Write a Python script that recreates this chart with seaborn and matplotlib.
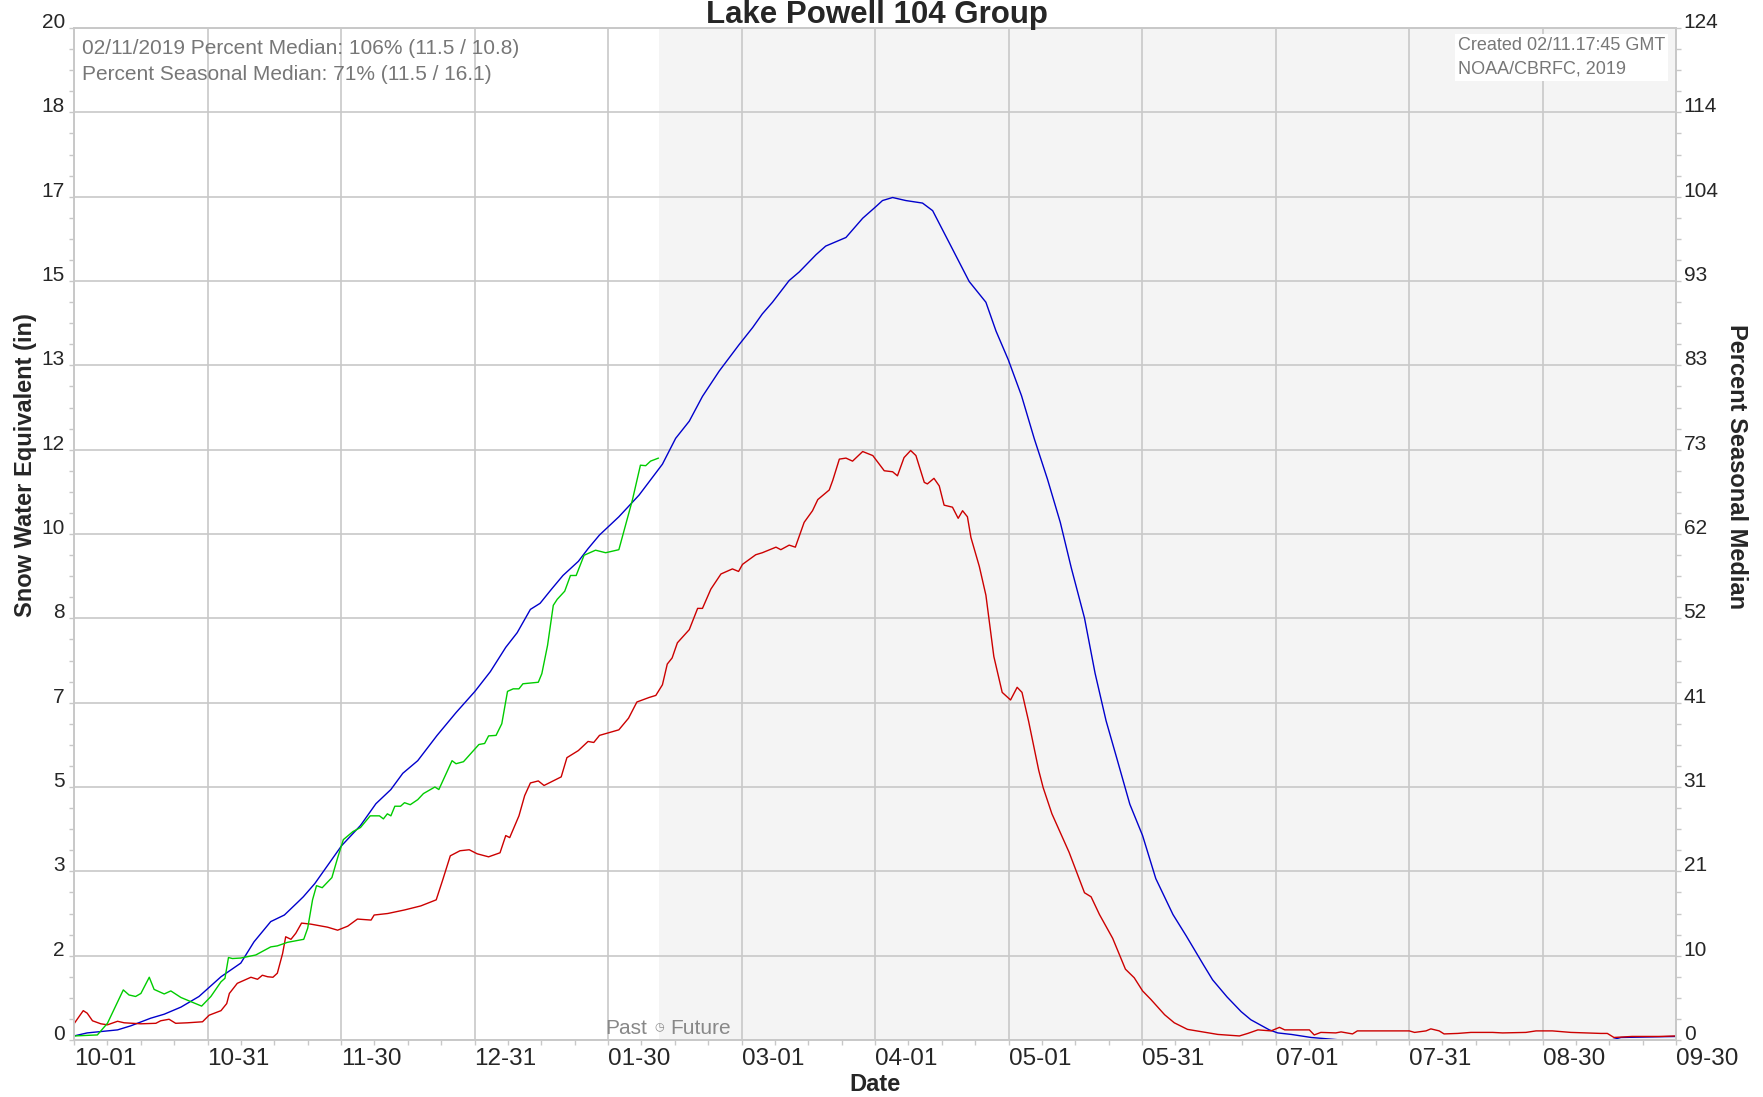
import numpy as np
import matplotlib
matplotlib.use('Agg')
import matplotlib.pyplot as plt
from matplotlib.ticker import AutoMinorLocator, FixedLocator
import seaborn as sns

# days since 10-01, snow water equivalent (in)
median_day = [0, 3.0, 9.9, 12.9, 17.4, 20.5, 24.3, 28.4, 33.4, 37.9, 40.9, 44.7, 47.8, 50.8,
              52.1, 54.7, 58.2, 60.8, 65.1, 68.6, 72.0, 74.7, 78.1, 82.5, 86.8, 91.1, 94.6, 98.1,
              100.7, 103.7, 105.9, 108.5, 111.1, 114.6, 116.8, 119.4, 123.8, 128.4, 133.7, 136.7,
              139.8, 142.8, 146.6, 151.1, 154.2, 156.4, 158.7, 162.5, 164.8, 168.6, 170.8, 175.4,
              179.2, 182.2, 183.7, 186.0, 189.0, 192.8, 195.1, 198.9, 203.4, 207.2, 209.5, 212.3,
              215.3, 218.2, 221.2, 224.1, 226.6, 229.6, 232.0, 234.5, 237.0, 239.9, 242.8, 245.8,
              249.7, 252.7, 256.6, 258.7, 262.0, 265.2, 267.4, 271.6, 273.5, 276.6, 281.1, 287.9,
              349.3, 351.5, 364]
median_swe = [0.08, 0.14, 0.20, 0.28, 0.43, 0.51, 0.65, 0.86, 1.25, 1.52, 1.94, 2.34, 2.47, 2.72,
              2.83, 3.09, 3.52, 3.84, 4.24, 4.67, 4.95, 5.27, 5.52, 6.02, 6.47, 6.89, 7.28, 7.76,
              8.05, 8.51, 8.63, 8.91, 9.18, 9.46, 9.71, 9.98, 10.34, 10.77, 11.38, 11.89,
              12.23, 12.72, 13.22, 13.74, 14.08, 14.35, 14.58, 15.01, 15.18, 15.52, 15.69, 15.86,
              16.24, 16.47, 16.59, 16.65, 16.59, 16.54, 16.39, 15.75, 14.99, 14.58, 14.01, 13.44,
              12.73, 11.88, 11.08, 10.23, 9.33, 8.34, 7.25, 6.31, 5.55, 4.66, 4.04, 3.19,
              2.48, 2.06, 1.49, 1.19, 0.85, 0.56, 0.40, 0.20, 0.14, 0.11, 0.05, 0.0,
              0.0, 0.05, 0.07]

other_day = [0, 2.1, 3.0, 4.2, 6.1, 7.6, 9.9, 11.4, 15.2, 18.6, 19.7, 21.6, 23.1, 25.8, 29.2,
             30.7, 33.4, 34.7, 35.3, 37.1, 40.2, 41.7, 42.8, 44.0, 45.2, 46.2, 47.4, 48.1, 49.3,
             50.4, 51.7, 53.8, 57.6, 59.9, 62.2, 64.4, 67.5, 68.2, 71.3, 75.1, 78.8, 82.3,
             83.8, 85.5, 87.7, 89.8, 91.6, 94.2, 96.8, 98.1, 99.0, 101.1, 102.4, 103.7, 105.5, 106.8,
             110.7, 112.0, 114.6, 116.8, 118.1, 119.4, 123.8, 126.0, 127.9, 130.7, 132.2, 133.7,
             134.8, 135.9, 137.1, 139.8, 141.7, 142.8, 144.7, 147.0, 149.6, 151.0, 151.9, 154.9,
             156.4, 159.5, 160.6, 162.5, 163.9, 165.9, 167.8, 169.0, 171.6, 172.4, 173.9, 175.4,
             176.9, 179.2, 181.5, 184.1, 186.0, 187.1, 188.6, 190.1, 191.3, 193.2, 193.9, 195.4,
             196.6, 197.7, 199.6, 200.9, 201.9, 203.0, 203.8, 205.7, 207.2, 209.0, 210.9, 212.8,
             214.3, 215.4, 216.9, 219.2, 220.2, 222.2, 226.1, 229.6, 231.1, 233.0, 236.0, 238.9,
             240.9, 242.8, 244.7, 247.8, 250.0, 253.0, 259.9, 264.8, 266.7, 269.0, 272.0, 273.9,
             275.1, 280.7, 281.8, 283.3, 286.7, 287.9, 290.5, 291.6, 303.4, 304.6, 307.2, 308.3,
             310.2, 311.3, 314.4, 317.4, 322.3, 324.6, 329.9, 332.2, 335.9, 340.1, 346.9, 348.4,
             349.9, 354.0, 360.1, 364]
other_swe = [0.32, 0.58, 0.53, 0.38, 0.32, 0.30, 0.37, 0.34, 0.32, 0.33, 0.38, 0.41, 0.33, 0.34, 0.36,
             0.49, 0.58, 0.72, 0.92, 1.12, 1.24, 1.20, 1.28, 1.25, 1.24, 1.32, 1.71, 2.04, 1.99,
             2.11, 2.31, 2.29, 2.23, 2.17, 2.25, 2.39, 2.37, 2.47, 2.50, 2.57, 2.65, 2.77,
             3.17, 3.64, 3.74, 3.76, 3.68, 3.62, 3.70, 4.04, 4.00, 4.43, 4.83, 5.08, 5.12, 5.03,
             5.20, 5.58, 5.72, 5.90, 5.88, 6.02, 6.13, 6.36, 6.68, 6.77, 6.81, 7.02,
             7.43, 7.55, 7.85, 8.11, 8.53, 8.53, 8.91, 9.21, 9.31, 9.26, 9.40, 9.59,
             9.63, 9.74, 9.69, 9.78, 9.74, 10.23, 10.46, 10.68, 10.87, 11.06, 11.48, 11.50,
             11.44, 11.63, 11.55, 11.25, 11.23, 11.15, 11.51, 11.65, 11.55, 11.02, 10.99, 11.10,
             10.95, 10.57, 10.53, 10.31, 10.46, 10.34, 9.93, 9.36, 8.79, 7.58, 6.87, 6.72,
             6.97, 6.87, 6.30, 5.33, 4.99, 4.47, 3.71, 2.91, 2.83, 2.48, 2.01, 1.40,
             1.23, 0.97, 0.80, 0.50, 0.34, 0.21, 0.11, 0.08, 0.13, 0.20, 0.18, 0.25,
             0.20, 0.20, 0.10, 0.15, 0.14, 0.16, 0.12, 0.18, 0.18, 0.15, 0.18, 0.22,
             0.18, 0.12, 0.13, 0.15, 0.15, 0.14, 0.15, 0.18, 0.18, 0.15, 0.13, 0.13,
             0.05, 0.07, 0.07, 0.08]

current_day = [0, 5.3, 7.6, 11.2, 12.5, 14.0, 15.2, 17.1, 18.2, 20.5, 22.0, 24.3, 26.5, 29.0,
               31.1, 33.4, 34.3, 35.1, 36.0, 37.9, 41.3, 44.7, 46.2, 48.5, 52.2, 53.1, 54.2, 55.1,
               56.4, 58.6, 59.9, 61.2, 63.4, 65.1, 67.3, 69.4, 70.3, 71.2, 72.0, 72.9, 74.2, 75.1,
               76.4, 78.1, 79.4, 82.0, 82.9, 85.9, 86.8, 88.5, 92.0, 93.3, 94.2, 95.9, 97.2, 98.5,
               99.8, 101.1, 102.0, 105.5, 106.3, 107.6, 108.9, 109.8, 111.5, 112.8, 114.1, 115.9,
               118.5, 120.8, 123.8, 126.9, 128.7, 129.9, 131.0, 132.8]
current_swe = [0.08, 0.10, 0.33, 0.99, 0.89, 0.86, 0.92, 1.24, 1.00, 0.91, 0.97, 0.84, 0.76, 0.67,
               0.86, 1.15, 1.22, 1.63, 1.61, 1.62, 1.68, 1.84, 1.86, 1.93, 1.99, 2.21, 2.77, 3.05,
               3.01, 3.21, 3.60, 3.96, 4.12, 4.20, 4.43, 4.43, 4.37, 4.47, 4.43, 4.62, 4.62, 4.69,
               4.65, 4.75, 4.87, 5.00, 4.95, 5.52, 5.46, 5.50, 5.84, 5.86, 6.01, 6.02, 6.25, 6.89,
               6.94, 6.94, 7.04, 7.07, 7.24, 7.80, 8.59, 8.71, 8.87, 9.18, 9.18, 9.58,
               9.68, 9.63, 9.69, 10.68, 11.36, 11.35, 11.44, 11.50]

date_labels = ['10-01', '10-31', '11-30', '12-31', '01-30', '03-01', '04-01', '05-01',
               '05-31', '07-01', '07-31', '08-30', '09-30']
left_labels = ['0', '2', '3', '5', '7', '8', '10', '12', '13', '15', '17', '18', '20']
right_labels = ['0', '10', '21', '31', '41', '52', '62', '73', '83', '93', '104', '114', '124']
today = 133

sns.set_style('white')
plt.rcParams['font.family'] = ['Liberation Sans', 'DejaVu Sans']
narrow = ['Liberation Sans Narrow', 'Liberation Sans']
grey = '#c8c8c8'

fig = plt.figure(figsize=(17.63, 10.97), dpi=100)
ax = fig.add_axes([74 / 1763, 1 - 1040 / 1097, 1602 / 1763, 1012 / 1097])

ax.axvspan(today, 364, color='#f4f4f4', zorder=0, lw=0)

sns.lineplot(x=median_day, y=median_swe, ax=ax, color='#0000cc', lw=1.0, sort=False, estimator=None)
sns.lineplot(x=other_day, y=other_swe, ax=ax, color='#cc0000', lw=1.0, sort=False, estimator=None)
sns.lineplot(x=current_day, y=current_swe, ax=ax, color='#00cc00', lw=1.0, sort=False, estimator=None)

ax.set_xlim(0, 364)
ax.set_ylim(0, 20)
ax.xaxis.set_major_locator(FixedLocator(np.linspace(0, 364, 13)))
ax.yaxis.set_major_locator(FixedLocator(np.linspace(0, 20, 13)))
ax.set_xticklabels(date_labels, ha='left', fontsize=17.5, family=narrow)
ax.set_yticklabels(left_labels, fontsize=15, va='baseline')
ax.xaxis.set_minor_locator(AutoMinorLocator(4))
ax.yaxis.set_minor_locator(AutoMinorLocator(4))
ax.grid(True, which='major', color=grey, lw=1.2)
ax.set_axisbelow(True)
ax.tick_params(which='both', direction='out', color=grey, bottom=True, left=True,
               length=3.5, width=1)
ax.tick_params(axis='y', which='major', pad=3)
ax.tick_params(axis='x', which='major', pad=2.5)
for s in ax.spines.values():
    s.set_color(grey)
    s.set_linewidth(1.2)

ax2 = ax.twinx()
ax2.set_ylim(0, 124)
ax2.yaxis.set_major_locator(FixedLocator(np.linspace(0, 124, 13)))
ax2.set_yticklabels(right_labels, fontsize=15, va='baseline')
ax2.yaxis.set_minor_locator(AutoMinorLocator(4))
ax2.tick_params(which='both', direction='out', color=grey, right=True, length=3.5, width=1)
ax2.tick_params(which='major', pad=2)
for s in ax2.spines.values():
    s.set_color(grey)
    s.set_linewidth(1.2)

ax.set_xlabel('Date', fontsize=17, fontweight='bold', family=narrow, labelpad=2)
ax.set_ylabel('Snow Water Equivalent (in)', fontsize=17, fontweight='bold', family=narrow, labelpad=3)
ax2.set_ylabel('Percent Seasonal Median', fontsize=17, fontweight='bold', family=narrow,
               rotation=-90, labelpad=21)
ax.yaxis.label.set_y(0.568)
ax2.yaxis.label.set_y(0.567)

fig.text(877 / 1763, 1 - 23 / 1097, 'Lake Powell 104 Group', ha='center', va='baseline',
         fontsize=22.5, fontweight='bold')

ax.text(0.005, 0.989, '02/11/2019 Percent Median: 106% (11.5 / 10.8)\nPercent Seasonal Median: 71% (11.5 / 16.1)',
        transform=ax.transAxes, ha='left', va='top', fontsize=15, color='#777777', linespacing=1.43)
ax.text(0.864, 0.991, 'Created 02/11.17:45 GMT\nNOAA/CBRFC, 2019', transform=ax.transAxes,
        ha='left', va='top', fontsize=13, color='#777777', linespacing=1.52,
        bbox=dict(facecolor='white', edgecolor='none', pad=2))

ax.annotate('Past', xy=(today, 0), xycoords='data', xytext=(-9, 4), textcoords='offset points',
            ha='right', va='baseline', fontsize=15, color='#888888')
ax.annotate('Future', xy=(today, 0), xycoords='data', xytext=(8, 4), textcoords='offset points',
            ha='left', va='baseline', fontsize=15, color='#888888')
ax.annotate('\u25f7', xy=(today, 0), xycoords='data', xytext=(0, 9), textcoords='offset points',
            ha='center', va='center', fontsize=8, color='#888888', family='DejaVu Sans')

fig.savefig('out.png', dpi=100)
